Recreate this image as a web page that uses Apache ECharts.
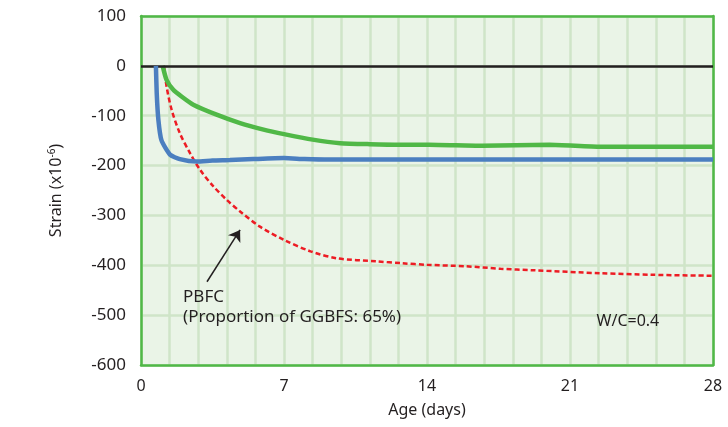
<!DOCTYPE html>
<html>
<head>
<meta charset="utf-8">
<script src="https://cdn.jsdelivr.net/npm/echarts@6/dist/echarts.min.js"></script>
<style>
  html, body { margin: 0; padding: 0; background: #fff; }
  #main { width: 728px; height: 427px; }
</style>
</head>
<body>
<div id="main"></div>
<script>
// values (age in days, strain x10^-6)
var xTicks = [0, 7, 14, 21, 28];
var yTicks = [100, 0, -100, -200, -300, -400, -500, -600];

var blueAge = [0.73, 0.77, 0.85, 1.0, 1.42, 1.9, 2.72, 3.5, 4.35, 5.5, 7, 8, 9.25, 11, 14, 17.5, 21, 24.5, 28];
var blueStrain = [0, -55, -108, -149, -178, -187, -192, -190, -189, -187, -185, -187, -188, -188, -188, -188, -188, -188, -188];

var greenAge = [1.06, 1.25, 1.58, 2.0, 2.56, 3.7, 4.85, 6, 7, 8.4, 9.75, 11.2, 12.7, 14.1, 16.7, 20, 22.5, 25, 28];
var greenStrain = [0, -28, -48, -62, -78, -98, -115, -128, -137, -148, -155, -157, -158, -158, -160, -158, -162, -162, -162];

var redAge = [1.13, 1.25, 1.5, 1.9, 2.4, 2.9, 3.55, 4.2, 4.85, 5.8, 7, 8.3, 9.6, 11.5, 12.8, 14, 15.9, 17.6, 19.2, 22.5, 25, 28];
var redStrain = [0, -41, -88, -135, -175, -209, -242, -269, -292, -322, -349, -372, -386, -392, -396, -399, -402, -407, -410, -416, -419, -421];

function pairs(xs, ys) {
    return xs.map(function (x, i) { return [x, ys[i]]; });
}

var textColor = '#231f20';
var frameColor = '#50b847';
var gridColor = '#cfe5c8';
var font = 'Noto Sans';

// plain axis used only to draw the green frame over the grid lines
function frameAxis(pos, min, max) {
    return {
        type: 'value', position: pos, min: min, max: max,
        axisLine: { show: true, onZero: false, lineStyle: { color: frameColor, width: 2.5 } },
        axisTick: { show: false }, axisLabel: { show: false }, splitLine: { show: false }
    };
}

var chart = echarts.init(document.getElementById('main'));
chart.setOption({
    animation: false,
    textStyle: { fontFamily: font, color: textColor },
    grid: {
        left: 141, right: 15, top: 16, bottom: 62,
        show: true,
        backgroundColor: '#eaf4e7',
        borderWidth: 0
    },
    xAxis: [{
        type: 'value',
        min: 0, max: 28, interval: 1.4,
        name: 'Age (days)',
        nameLocation: 'middle',
        nameGap: 37,
        nameTextStyle: { fontSize: 16, color: textColor, fontFamily: font },
        axisLine: { show: true, onZero: false, lineStyle: { color: frameColor, width: 2.5 } },
        axisTick: { show: false },
        axisLabel: {
            fontSize: 16, color: textColor, margin: 13,
            formatter: function (v) {
                var k = Math.round(v);
                return (Math.abs(v - k) < 1e-6 && xTicks.indexOf(k) >= 0) ? String(k) : '';
            }
        },
        splitLine: { show: true, lineStyle: { color: gridColor, width: 2.5 } }
    }, frameAxis('top', 0, 28)],
    yAxis: [{
        type: 'value',
        min: -600, max: 100, interval: 100,
        name: 'Strain (x10{sup|-6})',
        nameLocation: 'middle',
        nameGap: 76,
        nameTextStyle: {
            fontSize: 16, color: textColor, fontFamily: font,
            rich: { sup: { fontSize: 10, color: textColor, fontFamily: font, padding: [0, 0, 8, 0] } }
        },
        axisLine: { show: true, onZero: false, lineStyle: { color: frameColor, width: 2.5 } },
        axisTick: { show: false },
        axisLabel: {
            fontSize: 17, color: textColor, margin: 15,
            formatter: function (v) { return yTicks.indexOf(v) >= 0 ? String(v) : ''; }
        },
        splitLine: { show: true, lineStyle: { color: gridColor, width: 2.5 } }
    }, frameAxis('right', -600, 100)],
    series: [
        {
            name: 'PBFC',
            type: 'line',
            data: pairs(redAge, redStrain),
            smooth: 0.3,
            showSymbol: false,
            z: 3,
            lineStyle: { color: '#ed1c24', width: 2.5, type: [5, 3] },
            markLine: {
                silent: true,
                symbol: ['none', 'arrow'],
                symbolSize: 11,
                label: { show: false },
                lineStyle: { color: textColor, width: 1.5, type: 'solid' },
                data: [[{ coord: [3.23, -433] }, { coord: [4.85, -329] }]]
            }
        },
        {
            name: 'Green',
            type: 'line',
            data: pairs(greenAge, greenStrain),
            smooth: 0.2,
            showSymbol: false,
            z: 4,
            lineStyle: { color: '#50b847', width: 4.5 }
        },
        {
            name: 'Blue',
            type: 'line',
            data: pairs(blueAge, blueStrain),
            smooth: 0.2,
            showSymbol: false,
            z: 5,
            lineStyle: { color: '#4b7fc0', width: 4.5 },
            markLine: {
                silent: true,
                symbol: 'none',
                label: { show: false },
                lineStyle: { color: '#231f20', width: 2.5, type: 'solid' },
                data: [{ yAxis: 0 }]
            }
        }
    ]
});

// annotation text anchored in data coordinates
var p1 = chart.convertToPixel({ gridIndex: 0 }, [2.06, -444]);
var p2 = chart.convertToPixel({ gridIndex: 0 }, [22.3, -497]);
chart.setOption({
    graphic: [
        {
            type: 'text', left: p1[0], top: p1[1],
            style: {
                text: 'PBFC\n(Proportion of GGBFS: 65%)',
                font: '17px "Noto Sans"', fill: textColor, lineHeight: 20
            }
        },
        {
            type: 'text', left: p2[0], top: p2[1],
            style: { text: 'W/C=0.4', font: '16px "Noto Sans"', fill: textColor }
        }
    ]
});
</script>
</body>
</html>
